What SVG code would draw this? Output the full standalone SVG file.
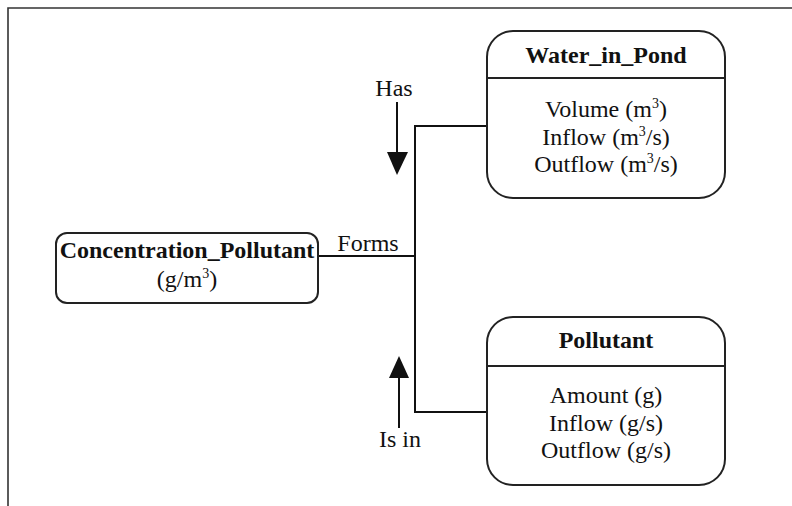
<svg xmlns="http://www.w3.org/2000/svg" width="792" height="506" viewBox="0 0 792 506">
  <style>
    .frame { fill: none; stroke: #333; stroke-width: 1.6; }
    .box { fill: #fff; stroke: #222; stroke-width: 2; }
    .div { stroke: #222; stroke-width: 2; }
    .wire { fill: none; stroke: #111; stroke-width: 2; }
    .t { font-family: "Liberation Serif", "Times New Roman", serif; font-size: 24px; fill: #111; text-anchor: middle; }
    .b { font-weight: bold; }
    .sup { font-size: 14px; }
  </style>

  <!-- page frame (top and left edges) -->
  <path class="frame" d="M8,506 V8 H792"/>

  <!-- connectors -->
  <g id="connectors">
    <path class="wire" d="M318,256 H415"/>
    <path class="wire" d="M487,126 H415 V412 H487"/>
    <!-- Has arrow -->
    <line class="wire" x1="397" y1="102" x2="397" y2="154"/>
    <polygon points="387,152 408,152 397,175" fill="#111"/>
    <text class="t" x="394" y="96">Has</text>
    <!-- Is in arrow -->
    <line class="wire" x1="399" y1="376" x2="399" y2="428"/>
    <polygon points="389,378 409,378 399,356" fill="#111"/>
    <text class="t" x="400" y="447">Is in</text>
    <!-- Forms label -->
    <text class="t" x="368" y="251">Forms</text>
  </g>

  <!-- Water_in_Pond -->
  <g id="water_in_pond">
    <rect class="box" x="487" y="31" width="238" height="167" rx="26" ry="26"/>
    <line class="div" x1="487" y1="78" x2="725" y2="78"/>
    <text class="t b" x="606" y="63">Water_in_Pond</text>
    <text class="t" x="606" y="117">Volume (m<tspan class="sup" dy="-9">3</tspan><tspan dy="9">)</tspan></text>
    <text class="t" x="606" y="145">Inflow (m<tspan class="sup" dy="-9">3</tspan><tspan dy="9">/s)</tspan></text>
    <text class="t" x="606" y="172">Outflow (m<tspan class="sup" dy="-9">3</tspan><tspan dy="9">/s)</tspan></text>
  </g>

  <!-- Pollutant -->
  <g id="pollutant">
    <rect class="box" x="487" y="317" width="238" height="168" rx="26" ry="26"/>
    <line class="div" x1="487" y1="366" x2="725" y2="366"/>
    <text class="t b" x="606" y="348">Pollutant</text>
    <text class="t" x="606" y="403">Amount (g)</text>
    <text class="t" x="606" y="431">Inflow (g/s)</text>
    <text class="t" x="606" y="458">Outflow (g/s)</text>
  </g>

  <!-- Concentration_Pollutant -->
  <g id="concentration_pollutant">
    <rect class="box" x="56" y="233" width="262" height="70" rx="11" ry="11"/>
    <text class="t b" x="187" y="258">Concentration_Pollutant</text>
    <text class="t" x="187" y="287">(g/m<tspan class="sup" dy="-9">3</tspan><tspan dy="9">)</tspan></text>
  </g>
</svg>
